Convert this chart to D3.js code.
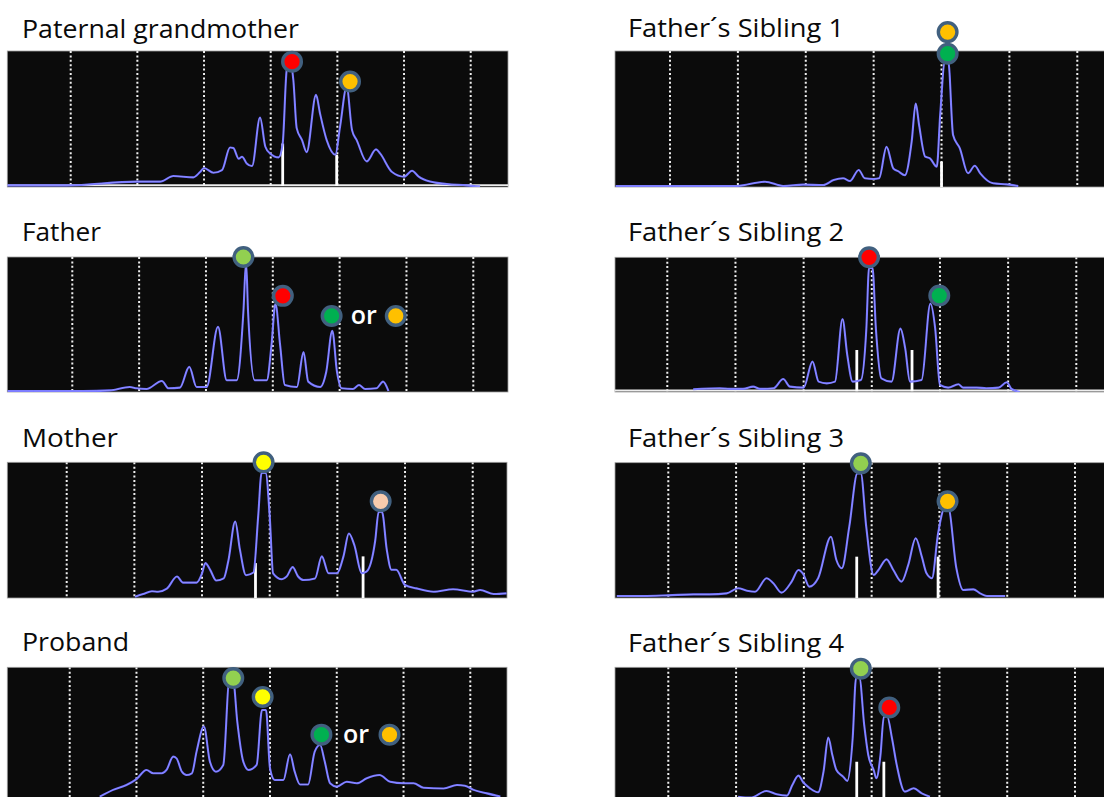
<!DOCTYPE html>
<html><head><meta charset="utf-8">
<script src="https://cdn.jsdelivr.net/npm/d3@7"></script>
<style>html,body{margin:0;padding:0;background:#fff;overflow:hidden}</style>
</head><body><svg id="c" width="1104" height="797"></svg>
<script>
// ---------------- DATA ----------------
const panelNames = ["Paternal grandmother","Father","Mother","Proband",
  "Father\u00b4s Sibling 1","Father\u00b4s Sibling 2","Father\u00b4s Sibling 3","Father\u00b4s Sibling 4"];
const gridTicks = [10,20,30,40,50,60,70];

// traces: [size, intensity]
const traceGrandmother = [[0.5,-1],[9.4,-1],[19.9,1.8],[23.4,1.8],[25.4,6],[28.4,5],[29.4,9],[30,12],[31.4,8.5],[32.7,10.5],[33.9,27.5],[34.4,27],[35.2,19],[35.7,20.5],[36.4,15.5],[37.2,13.5],[38.4,50],[39.2,28],[39.9,23],[41.2,20],[41.8,30.5],[42.4,85.5],[42.9,92],[43.4,78],[43.9,42],[44.7,33],[45.4,24],[46.8,67],[47.4,53],[48.4,33],[49.7,22],[50.4,43],[51.4,73],[52.2,40.5],[52.9,33],[54.4,17],[55.8,26],[56.4,23],[58.2,9],[60,5.5],[61.2,10],[62.2,5.5],[63.9,1.8],[66.4,0],[69.4,-1],[71.4,-2]];
const traceFather = [[0.3,0],[4.2,0],[11.6,0],[15.6,0.5],[18.6,3],[19.6,2],[21.1,1.5],[23.4,7.5],[24.4,2],[26.1,2.5],[27.5,18],[28.6,3],[30.1,3],[31.8,48],[33.1,8],[34.6,8],[35.6,59],[36,96],[36.3,59],[37.3,8],[39.1,8],[39.8,34],[40.4,65],[41.1,34],[41.8,4.5],[43.6,3],[44.6,29],[45.3,7],[47.1,3],[48,14.4],[48.9,45],[49.6,14.4],[50.3,2],[52,1.5],[52.9,4.5],[53.8,1.5],[55.5,2],[56.5,7],[57.3,0]];
const traceMother = [[20.1,0],[21.3,2],[22.6,4],[23.5,3.7],[24.8,6],[26.3,15],[27.2,10.5],[29.2,10.5],[30,17.4],[30.5,25],[31.2,20],[32.1,12],[33.2,13.6],[33.9,27],[34.9,56],[35.6,35],[36.5,16],[37.6,18],[38.3,60],[38.8,92],[39.4,92],[40,60],[40.5,17.4],[41.8,13],[42.5,15],[43.4,22],[44.2,15],[45,12.4],[46.7,13.6],[47.7,30],[48.7,17.4],[49.9,17.4],[50.9,30],[51.7,47],[52.5,38.5],[53.6,17.4],[54.3,18.6],[55.6,42],[56.1,63],[56.6,63],[57.3,35],[58,20],[58.7,20],[60,8.7],[61.7,6.2],[64.2,3.7],[67.1,5.5],[70.1,3.7],[71.1,5],[73.1,2],[75,2.5]];
const traceProband = [[14.5,4],[16.5,9],[18.5,12.6],[20,17],[21.5,23.8],[22.5,21.3],[23.8,21.3],[24.5,23.8],[25.5,33.7],[26,32.4],[26.8,22.5],[27.5,20],[28.3,21.3],[29,37.4],[30.1,56],[31,30],[31.9,22.5],[33,27.5],[33.9,89.4],[34.5,89.4],[35.1,59.7],[36,30],[36.8,23.8],[38,27.5],[38.8,68.3],[39.4,68.3],[40,25],[40.7,16.3],[42,16.3],[43,35.4],[43.7,22.5],[44.5,13],[45.7,13],[46.7,37.4],[47.5,42.3],[48.2,30],[49,13.9],[50,11.4],[51.5,15],[53,13.9],[54.5,17.6],[56.4,20],[58,15],[60,13.9],[61.5,13.9],[63,10.6],[66,10],[68,12.6],[69.2,12],[70.5,9],[72.5,6.4],[74.5,4]];
const traceSibling1 = [[2,0],[15.9,0],[19.8,0],[24,3.2],[26.7,0],[29.6,1],[32.6,0.7],[34.1,4.4],[35.5,5.7],[36.5,3.7],[37.8,11.9],[38.7,5.7],[40,5.2],[40.8,5.7],[41.9,29],[42.9,13],[43.6,11],[44.6,8],[45.6,32.8],[46.2,61],[46.7,45],[47.6,21.7],[48.3,20.5],[49.3,14.3],[49.8,52.6],[50.5,92],[51,92],[51.7,37.8],[52.7,27.9],[53.9,9.4],[54.9,15],[55.7,9.4],[57.6,2],[59.6,1.2],[61.3,0]];
const traceSibling2 = [[13.8,0],[17.7,0.8],[19.2,0.3],[21.1,0.3],[22.6,2],[23.6,0.3],[25.6,0.8],[27,7.8],[28,2],[30,1.3],[31.3,21],[32.2,5.8],[33.4,4.5],[34.6,5.8],[35.7,53.3],[36.4,26],[37.2,5.8],[38.4,7],[39.2,46],[39.6,92],[40.1,92],[40.6,46],[41.4,8.3],[42.9,5.8],[44.2,46],[44.9,31],[45.6,5.8],[47.3,7],[48.6,65],[49.3,46],[50,3.3],[51.2,1.3],[52.7,3.8],[53.4,1.3],[55.4,1.3],[56.8,0.8],[58.6,1.3],[59.8,5.3],[60.5,0.3],[61.7,-2]];
const traceSibling3 = [[2.4,0],[6.3,0],[10,0.5],[13.7,1.2],[16.1,1.2],[18.6,2],[20.3,5.8],[21.6,4],[22.8,3.2],[24.5,13.3],[25.5,9.5],[26.7,2.5],[28.2,10.8],[29.2,19.5],[29.9,16.5],[30.8,7],[32.1,13.3],[34,44.5],[34.8,27],[35.6,20.8],[36.7,52],[37.9,92],[38.4,92],[39.2,52],[40.3,15.8],[41,19.5],[42.2,27.5],[43.2,19.5],[44.4,10.8],[45.4,23.3],[46.5,43.3],[47.4,29.5],[48.1,17],[48.9,13.3],[49.8,47],[50.8,66],[51.3,66],[52.5,20.8],[53.5,4.5],[55,5],[56,2],[57,0],[59.7,0]];
const traceSibling4 = [[20.3,3.2],[22.1,2.5],[24.5,7.5],[26,5],[27.5,4],[28.3,12],[29.2,19],[29.9,14],[30.9,9.5],[32.1,6.5],[32.9,22],[33.6,47.4],[34.2,34.4],[34.8,23.2],[35.8,18.2],[36.4,15],[37.2,46.9],[37.7,92],[38.2,92],[38.9,56.9],[39.5,34.4],[40.3,23.2],[40.7,17],[41.3,34.4],[41.8,63],[42.3,63],[43,46.9],[43.7,27],[44.9,7],[46.2,9.5],[47.4,5.7],[48.6,3.2]];

// size-standard markers: [size, height]
const markersGrandmother = [[41.8,30.5],[49.9,22]];
const markersFather = [];
const markersMother = [[37.9,25],[53.8,30]];
const markersProband = [];
const markersSibling1 = [[50,18]];
const markersSibling2 = [[37.8,29.8],[45.9,29.8]];
const markersSibling3 = [[37.8,29.5],[49.8,29.5]];
const markersSibling4 = [[37.8,29.4],[41.8,29.4]];

// allele labels: [size, intensity, allele]
const allelesGrandmother = [[43.2,92,"red"],[51.9,77,"orange"]];
const allelesFather = [[35.6,100,"lightgreen"],[41.5,71,"red"],[48.8,56,"green"],[58.4,56,"orange"]];
const allelesMother = [[39.1,100,"yellow"],[56.4,71,"peach"]];
const allelesProband = [[34.5,92,"lightgreen"],[38.9,78,"yellow"],[47.7,50,"green"],[57.9,50,"orange"]];
const allelesSibling1 = [[50.9,114,"orange"],[50.9,98,"green"]];
const allelesSibling2 = [[39.6,100,"red"],[49.9,71,"green"]];
const allelesSibling3 = [[38.4,99.5,"lightgreen"],[51.2,71,"orange"]];
const allelesSibling4 = [[38.4,99,"lightgreen"],[42.6,70,"red"]];

// "or" annotations: [size, intensity]
const orFather = [[53.6,56]];
const orProband = [[52.9,50]];

const traces = [traceGrandmother,traceFather,traceMother,traceProband,traceSibling1,traceSibling2,traceSibling3,traceSibling4];
const markers = [markersGrandmother,markersFather,markersMother,markersProband,markersSibling1,markersSibling2,markersSibling3,markersSibling4];
const alleles = [allelesGrandmother,allelesFather,allelesMother,allelesProband,allelesSibling1,allelesSibling2,allelesSibling3,allelesSibling4];
const orLabels = [[],orFather,[],orProband,[],[],[],[]];

// ---------------- STYLE / LAYOUT ----------------
const alleleColor = {red:"#ff0000",orange:"#ffc000",lightgreen:"#92d050",green:"#00b050",yellow:"#ffff00",peach:"#f8cbad"};
const layout = [
 {x0:7.3,x1:508,y0:51,y1:187,g10:70.7,g70:470.7,base:184,top:51,ty:38,tw:277,baseLine:true},
 {x0:7.3,x1:508,y0:257,y1:392,g10:72.3,g70:473.3,base:391,top:257,ty:241,tw:79},
 {x0:7.3,x1:507,y0:462.3,y1:598,g10:66.7,g70:472.7,base:596.7,top:462.3,ty:447,tw:96},
 {x0:7.3,x1:507,y0:667.3,y1:805,g10:69.7,g70:470.3,base:802,top:667.3,ty:651,tw:107},
 {x0:615,x1:1106,y0:51,y1:187,g10:670,g70:1077.3,base:186,top:51,ty:37,tw:216},
 {x0:615,x1:1106,y0:257.3,y1:392,g10:667.3,g70:1076.3,base:389.3,top:257.3,ty:241,tw:216,baseLine:true},
 {x0:615,x1:1106,y0:462.7,y1:598,g10:668.3,g70:1075,base:596,top:462.7,ty:447,tw:216},
 {x0:615,x1:1106,y0:667.3,y1:805,g10:668.3,g70:1075,base:801,top:667.3,ty:652,tw:216}
];

const svg = d3.select("#c");
const defs = svg.append("defs");

layout.forEach((L,i)=>{
  const x = d3.scaleLinear().domain([10,70]).range([L.g10,L.g70]);
  const y = d3.scaleLinear().domain([0,100]).range([L.base,L.top]);
  const g = svg.append("g");
  const tx = i<4 ? 22 : 628;
  g.append("text").attr("x",tx).attr("y",L.ty).text(panelNames[i])
    .attr("font-family","'Open Sans', 'Noto Sans', sans-serif").attr("font-size",25)
    .attr("fill","#0a0a0a").attr("textLength",L.tw).attr("lengthAdjust","spacingAndGlyphs");

  defs.append("clipPath").attr("id","clip"+i).append("rect")
    .attr("x",L.x0).attr("y",L.y0).attr("width",L.x1-L.x0).attr("height",L.y1-L.y0);

  g.append("rect").attr("x",L.x0).attr("y",L.y0).attr("width",L.x1-L.x0).attr("height",L.y1-L.y0)
    .attr("fill","#0b0b0b").attr("stroke","#a0a0a0").attr("stroke-width",0.8);

  const inner = g.append("g").attr("clip-path",`url(#clip${i})`);
  inner.selectAll("line.grid").data(gridTicks).join("line").attr("class","grid")
    .attr("x1",d=>x(d)).attr("x2",d=>x(d)).attr("y1",L.y0).attr("y2",L.y1)
    .attr("stroke","#f0f0f0").attr("stroke-width",2).attr("stroke-dasharray","2,2.4");
  if (L.baseLine) {
    inner.append("line").attr("x1",L.x0).attr("x2",L.x1).attr("y1",L.base+1.2).attr("y2",L.base+1.2)
      .attr("stroke","#eeeeee").attr("stroke-width",1.8);
  }
  inner.selectAll("line.mk").data(markers[i]).join("line").attr("class","mk")
    .attr("x1",d=>x(d[0])).attr("x2",d=>x(d[0])).attr("y1",y(-1.5)).attr("y2",d=>y(d[1]))
    .attr("stroke","#ffffff").attr("stroke-width",2.8);
  const line = d3.line().x(d=>x(d[0])).y(d=>y(d[1])).curve(d3.curveMonotoneX);
  inner.append("path").attr("d",line(traces[i])).attr("fill","none")
    .attr("stroke","#6c6cff").attr("stroke-width",2.1).attr("stroke-linejoin","round");
  inner.append("path").attr("d",line(traces[i])).attr("fill","none")
    .attr("stroke","#d0d0ff").attr("stroke-width",0.6).attr("stroke-opacity",0.6);

  g.selectAll("circle.al").data(alleles[i]).join("circle").attr("class","al")
    .attr("cx",d=>x(d[0])).attr("cy",d=>y(d[1])).attr("r",9.3)
    .attr("fill",d=>alleleColor[d[2]]).attr("stroke","#41607f").attr("stroke-width",3.4);
  g.selectAll("text.or").data(orLabels[i]).join("text").attr("class","or")
    .attr("x",d=>x(d[0])).attr("y",d=>y(d[1])).attr("dy","0.33em").attr("text-anchor","middle")
    .attr("font-family","'Open Sans', sans-serif").attr("font-size",25).attr("font-weight",600)
    .attr("fill","#ffffff").text("or");
});
</script></body></html>
